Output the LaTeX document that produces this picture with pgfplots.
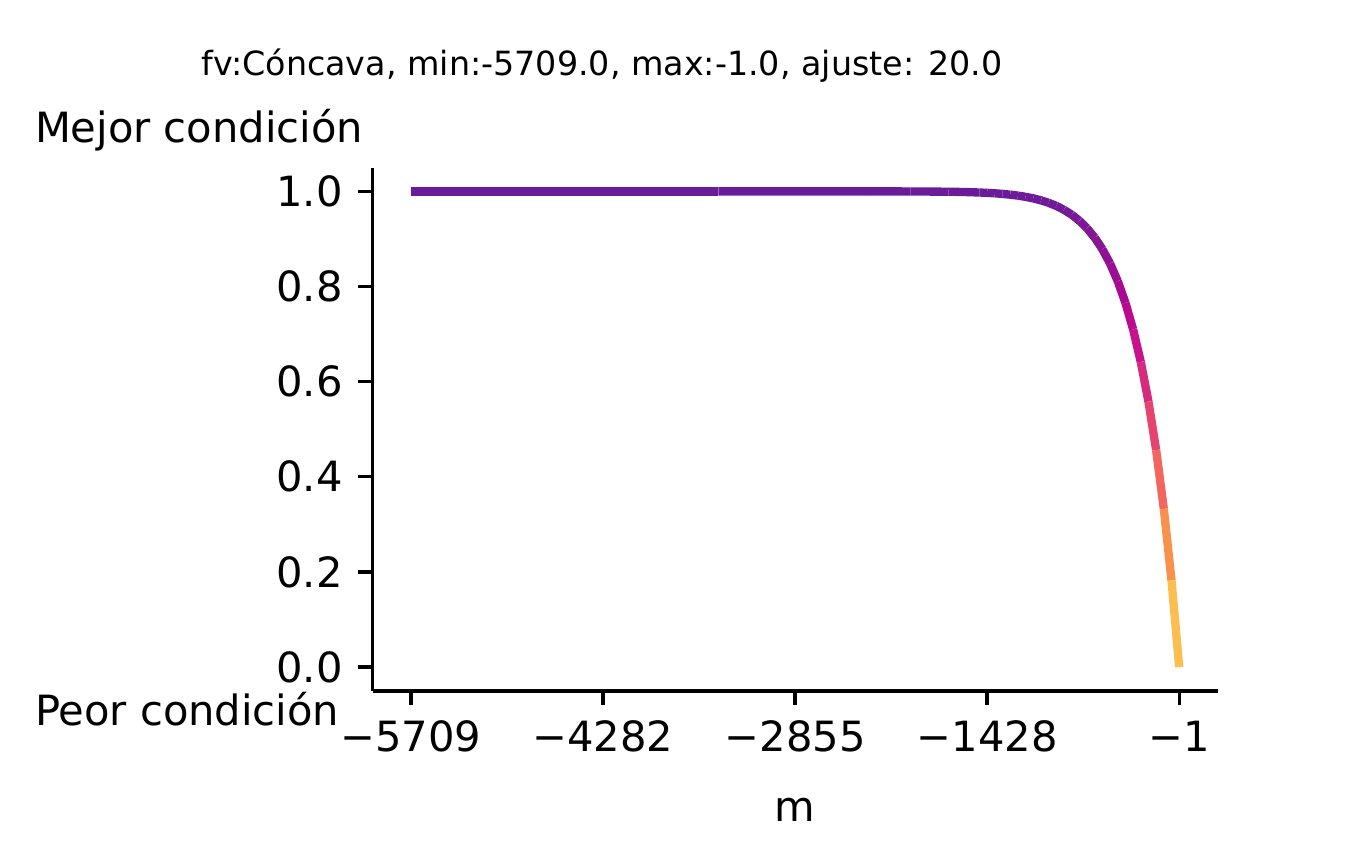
\documentclass[border=0pt]{standalone}
\usepackage{fontspec}
\setmainfont{DejaVu Sans}
\usepackage{pgfplots}
\pgfplotsset{compat=1.18}
\begin{document}
\fontsize{10}{12}\selectfont
\begin{tikzpicture}
\useasboundingbox (0,0) rectangle (324.72pt,202.32pt);
\begin{axis}[
  at={(89.42pt,36.5pt)}, anchor=south west,
  scale only axis, width=202.8pt, height=125.6pt,
  xmin=-5994.4, xmax=284.4, ymin=-0.05, ymax=1.05,
  axis x line*=bottom, axis y line*=left,
  axis line style={-, line width=0.8pt, black},
  xtick={-5709,-4282,-2855,-1428,-1},
  xticklabels={−5709,−4282,−2855,−1428,−1},
  ytick={0,0.2,0.4,0.6,0.8,1.0},
  yticklabels={0.0,0.2,0.4,0.6,0.8,1.0},
  tick align=outside,
  major tick length=3.5pt,
  every tick/.style={black, line width=0.8pt},
  ticklabel shift=3.5pt,
  ticklabel style={font=\fontsize{10}{12}\selectfont, inner sep=0pt},
  clip=false,
  colormap={curve}{rgb255(0pt)=(252,190,78); rgb255(91pt)=(252,190,78); rgb255(257pt)=(247,146,76); rgb255(394pt)=(243,102,94); rgb255(507pt)=(229,68,110); rgb255(600pt)=(213,42,126); rgb255(676pt)=(200,18,140); rgb255(767pt)=(176,8,145); rgb255(830pt)=(155,15,148); rgb255(900pt)=(133,22,148); rgb255(950pt)=(118,26,150); rgb255(1000pt)=(106,27,154)},
  point meta min=0, point meta max=1,
]
\addplot[mesh, shader=flat mean, line width=2pt, point meta=y] coordinates {
(-5709,1.0) (-4567.4,1.0) (-3425.8,1.0) (-2284.2,0.99996) (-1998.8,0.99982)
(-1713.4,0.99920) (-1599.24,0.99860) (-1485.08,0.99758) (-1428,0.99683)
(-1370.92,0.99587) (-1313.84,0.99463) (-1256.76,0.99305) (-1199.68,0.99103)
(-1142.6,0.98847) (-1085.52,0.98522) (-1028.44,0.98111) (-971.36,0.97593)
(-914.28,0.96941) (-857.2,0.96124) (-800.12,0.95103) (-743.04,0.93829)
(-685.96,0.92245) (-628.88,0.90279) (-571.8,0.87842) (-514.72,0.84836)
(-457.64,0.81131) (-400.56,0.76576) (-343.48,0.70989) (-286.4,0.64151)
(-229.32,0.55800) (-172.24,0.45621) (-115.16,0.33239) (-58.08,0.18209)
(-1,0.0)
};
\end{axis}
\node[anchor=base, inner sep=0pt, font=\fontsize{8}{10}\selectfont] at (144.5pt,184.3pt) {fv:Cóncava, min:-5709.0, max:-1.0, ajuste: 20.0};
\node[anchor=base west, inner sep=0pt] at (8.2pt,168.2pt) {Mejor condición};
\node[anchor=base west, inner sep=0pt] at (8.2pt,28.3pt) {Peor condición};
\node[anchor=base, inner sep=0pt] at (190.8pt,5.04pt) {m};
\end{tikzpicture}
\end{document}
